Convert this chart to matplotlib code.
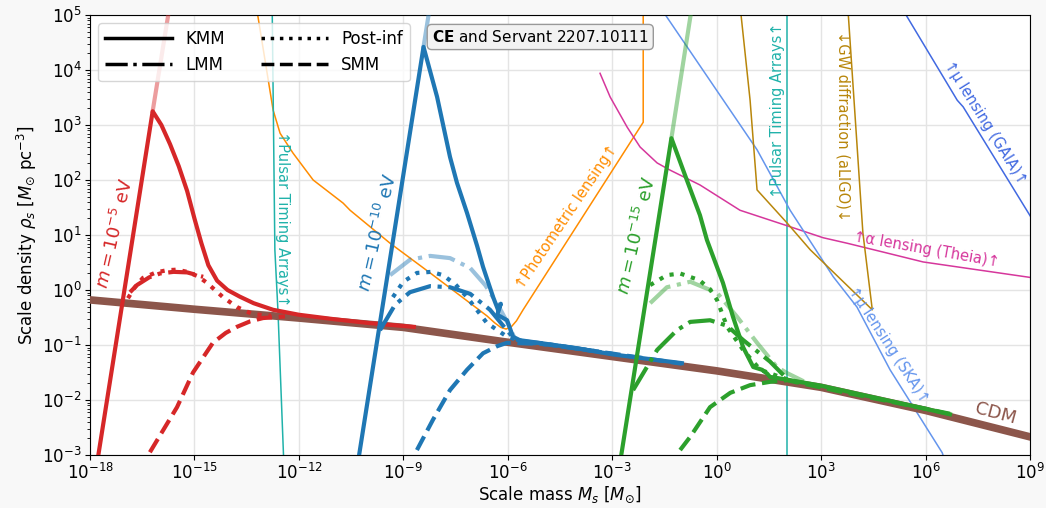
import numpy as np
import matplotlib
matplotlib.use("Agg")
import matplotlib.pyplot as plt
from matplotlib.lines import Line2D

# all values are log10 (mass in Msun, density in Msun/pc^3)
cdm_lx = [-18, -15, -12, -9, -6, -3, 0, 3, 6, 9]
cdm_ly = [-0.18, -0.35, -0.51, -0.68, -0.95, -1.21, -1.47, -1.77, -2.19, -2.67]

# m = 1e-5 eV (red)
red_kmm_lx = [-17.76, -16.2, -15.95, -15.7, -15.45, -15.21, -15.0, -14.8, -14.6, -14.35, -14.05, -13.7, -13.3, -12.74, -12.0, -11.0, -10.0, -8.7]
red_kmm_ly = [-3.0, 3.25, 3.0, 2.65, 2.25, 1.8, 1.3, 0.85, 0.45, 0.17, 0.0, -0.12, -0.24, -0.36, -0.45, -0.53, -0.6, -0.67]
red_fade_lx = [-16.2, -15.6]
red_fade_ly = [3.25, 5.6]
red_post_lx = [-16.91, -16.7, -16.48, -16.1, -15.79, -15.5, -15.21, -14.9, -14.64, -14.18, -13.78, -13.32, -12.8]
red_post_ly = [-0.15, 0.06, 0.22, 0.32, 0.36, 0.37, 0.33, 0.25, 0.13, -0.13, -0.31, -0.44, -0.47]
red_lmm_lx = [-16.85, -16.65, -16.3, -15.99, -15.6, -15.21, -14.75]
red_lmm_ly = [-0.04, 0.09, 0.23, 0.3, 0.33, 0.32, 0.24]
red_smm_lx = [-16.28, -15.5, -15.04, -14.47, -14.1, -13.78, -13.4, -13.03, -12.4]
red_smm_ly = [-2.95, -2.13, -1.5, -0.96, -0.78, -0.67, -0.57, -0.51, -0.48]

# m = 1e-10 eV (blue)
blue_kmm_lx = [-10.27, -8.42, -8.03, -7.66, -7.46, -7.17, -6.88, -6.71, -6.42, -6.28, -6.2, -6.3, -6.02, -5.85, -5.6, -5.0, -4.0, -3.0, -1.0]
blue_kmm_ly = [-3.0, 4.42, 3.51, 2.42, 1.95, 1.4, 0.8, 0.42, -0.13, -0.36, -0.25, -0.45, -0.55, -0.85, -0.93, -0.97, -1.06, -1.17, -1.33]
blue_fade_lx = [-8.42, -8.1]
blue_fade_ly = [4.42, 5.7]
blue_post_lx = [-9.3, -9.0, -8.61, -8.2, -7.86, -7.5, -7.17, -6.6, -6.02, -5.5, -4.5, -3.0]
blue_post_ly = [-0.13, 0.15, 0.31, 0.33, 0.27, 0.1, -0.13, -0.6, -0.85, -0.95, -1.02, -1.16]
blue_lmm_lx = [-9.67, -9.24, -8.81, -8.23, -7.66, -7.08, -6.51, -6.08, -5.8, -5.0, -3.5]
blue_lmm_ly = [-0.73, -0.27, -0.04, 0.07, 0.05, -0.07, -0.36, -0.69, -0.9, -0.97, -1.11]
blue_lmm2_lx = [-9.38, -8.81, -8.23, -7.66, -7.08, -6.65, -6.31, -6.02, -5.8]
blue_lmm2_ly = [0.27, 0.55, 0.62, 0.58, 0.4, 0.09, -0.24, -0.58, -0.88]
blue_smm_lx = [-8.61, -8.15, -7.66, -7.17, -6.71, -6.3, -6.02, -5.0, -3.5, -1.0]
blue_smm_ly = [-2.91, -2.36, -1.82, -1.45, -1.15, -1.02, -0.96, -0.98, -1.11, -1.34]

# m = 1e-15 eV (green)
green_kmm_lx = [-2.74, -1.3, -0.91, -0.48, -0.28, 0.18, 0.47, 0.76, 1.05, 1.3, 1.45, 1.53, 2.02, 3.0, 4.5, 6.0, 6.7]
green_kmm_ly = [-3.0, 2.76, 2.09, 1.36, 0.91, 0.13, -0.49, -1.04, -1.4, -1.45, -1.52, -1.58, -1.63, -1.74, -1.95, -2.16, -2.26]
green_fade_lx = [-1.3, -0.6]
green_fade_ly = [2.76, 5.6]
green_post_lx = [-1.91, -1.43, -1.05, -0.5, -0.2, 0.01, 0.3, 0.76, 1.25, 1.82, 2.3]
green_post_ly = [0.09, 0.27, 0.3, 0.18, 0.02, -0.18, -0.67, -1.09, -1.45, -1.58, -1.68]
green_lmm_lx = [-2.4, -1.71, -1.14, -0.76, -0.19, 0.3, 0.76, 1.53, 2.0]
green_lmm_ly = [-1.82, -1.09, -0.73, -0.58, -0.55, -0.65, -0.91, -1.3, -1.6]
green_lmm2_lx = [-1.91, -1.43, -0.76, 0.01, 0.59, 1.16, 1.73, 2.02, 2.5]
green_lmm2_ly = [-0.24, 0.05, 0.15, -0.05, -0.49, -0.96, -1.4, -1.51, -1.66]
green_smm_lx = [-1.05, -0.76, -0.19, 0.39, 0.96, 1.53, 2.02, 3.5, 5.0, 6.7]
green_smm_ly = [-2.91, -2.67, -2.13, -1.87, -1.73, -1.67, -1.64, -1.84, -2.03, -2.25]

# observational bounds
photo_lx = [-13.26, -12.74, -12.54, -12.17, -11.59, -10.73, -10.53, -9.38, -8.23, -7.08, -6.6, -6.37, -6.2, -6.05, -5.9, -5.75, -5.56, -2.11, -2.11]
photo_ly = [5.3, 3.27, 2.85, 2.49, 2.0, 1.58, 1.45, 0.85, 0.31, -0.24, -0.47, -0.6, -0.68, -0.71, -0.67, -0.56, -0.36, 3.05, 5.3]
pta1_lx = [-12.77, -12.69, -12.6, -12.43]
pta1_ly = [5.3, 0.73, -0.4, -3.2]
pta2_lx = [2.02, 2.02]
pta2_ly = [-3.2, 5.3]
theia_lx = [-3.35, -3.06, -2.57, -2.2, -1.71, -1.34, -0.48, 0.67, 2.11, 3.06, 3.75, 4.78, 5.93, 9.1]
theia_ly = [3.94, 3.51, 2.96, 2.6, 2.31, 2.18, 1.91, 1.45, 1.15, 0.95, 0.85, 0.69, 0.51, 0.22]
ska_lx = [-1.6, 1.16, 2.11, 3.35, 4.03, 4.98, 6.48, 6.6]
ska_ly = [5.12, 2.55, 1.45, 0.24, -0.31, -1.45, -2.96, -3.2]
gaia_lx = [5.25, 6.91, 7.08, 9.1]
gaia_ly = [5.2, 3.45, 3.33, 1.25]
gw_lx = [0.65, 0.96, 1.16, 2.02, 2.69, 4.47, 4.2, 3.75]
gw_ly = [5.3, 3.45, 1.82, 1.22, 0.73, -0.36, 1.04, 5.3]


def P(lx):
    return 10.0 ** np.array(lx)


fig = plt.figure(figsize=(10.46, 5.08), dpi=100, facecolor="#f8f8f8")
ax = fig.add_axes([90 / 1046, 1 - 455 / 508, 940 / 1046, 440 / 508])
ax.set_xscale("log")
ax.set_yscale("log")

red, blue, green = "#d62728", "#1f77b4", "#2ca02c"
lw = 3.0

# bounds
ax.plot(P(photo_lx), P(photo_ly), color="darkorange", lw=1.1, zorder=2)
ax.plot(P(pta1_lx), P(pta1_ly), color="lightseagreen", lw=1.1, zorder=2)
ax.plot(P(pta2_lx), P(pta2_ly), color="lightseagreen", lw=1.1, zorder=2)
ax.plot(P(theia_lx), P(theia_ly), color="#d6379c", lw=1.1, zorder=2)
ax.plot(P(ska_lx), P(ska_ly), color="cornflowerblue", lw=1.1, zorder=2)
ax.plot(P(gaia_lx), P(gaia_ly), color="royalblue", lw=1.1, zorder=2)
ax.plot(P(gw_lx), P(gw_ly), color="darkgoldenrod", lw=1.1, zorder=2)

# CDM
ax.plot(P(cdm_lx), P(cdm_ly), color="#8c564b", lw=5.5, zorder=3)

for col, kmm, fade, post, lmm, lmm2, smm in [
    (red, (red_kmm_lx, red_kmm_ly), (red_fade_lx, red_fade_ly), (red_post_lx, red_post_ly),
     (red_lmm_lx, red_lmm_ly), None, (red_smm_lx, red_smm_ly)),
    (blue, (blue_kmm_lx, blue_kmm_ly), (blue_fade_lx, blue_fade_ly), (blue_post_lx, blue_post_ly),
     (blue_lmm_lx, blue_lmm_ly), (blue_lmm2_lx, blue_lmm2_ly), (blue_smm_lx, blue_smm_ly)),
    (green, (green_kmm_lx, green_kmm_ly), (green_fade_lx, green_fade_ly), (green_post_lx, green_post_ly),
     (green_lmm_lx, green_lmm_ly), (green_lmm2_lx, green_lmm2_ly), (green_smm_lx, green_smm_ly)),
]:
    ax.plot(P(fade[0]), P(fade[1]), color=col, lw=lw, alpha=0.45, zorder=4)
    if lmm2 is not None:
        ax.plot(P(lmm2[0]), P(lmm2[1]), color=col, lw=lw, ls="-.", alpha=0.45, zorder=4)
    ax.plot(P(kmm[0]), P(kmm[1]), color=col, lw=lw, zorder=5)
    ax.plot(P(post[0]), P(post[1]), color=col, lw=lw, ls=":", zorder=5)
    ax.plot(P(lmm[0]), P(lmm[1]), color=col, lw=lw, ls="-.", zorder=5)
    ax.plot(P(smm[0]), P(smm[1]), color=col, lw=lw, ls="--", zorder=5)

ax.set_xlim(1e-18, 1e9)
ax.set_ylim(1e-3, 1e5)
ax.set_xticks([10.0 ** k for k in range(-18, 10, 3)])
ax.xaxis.set_minor_locator(matplotlib.ticker.NullLocator())
ax.set_yticks([10.0 ** k for k in range(-3, 6)])
ax.yaxis.set_minor_locator(matplotlib.ticker.LogLocator(subs=np.arange(2, 10), numticks=20))
ax.yaxis.set_minor_formatter(matplotlib.ticker.NullFormatter())
ax.tick_params(labelsize=12, pad=2.5)
ax.grid(True, which="major", color="#e4e4e4", lw=1)
ax.set_axisbelow(True)
ax.set_xlabel(r"Scale mass $M_s$ [$M_{\odot}$]", fontsize=12, labelpad=1)
ax.set_ylabel(r"Scale density $\rho_s$ [$M_{\odot}$ pc$^{-3}$]", fontsize=12, labelpad=2)

# labels
def lab(lx, ly, s, col, rot, fs=10.5):
    ax.text(10 ** lx, 10 ** ly, s, color=col, rotation=rot, fontsize=fs,
            ha="center", va="center", rotation_mode="anchor", zorder=6)

lab(-17.28, 1.04, r"$m=10^{-5}$ eV", red, 77, 13)
lab(-9.73, 1.04, r"$m=10^{-10}$ eV", blue, 77, 13)
lab(-2.29, 1.0, r"$m=10^{-15}$ eV", green, 77, 13)
lab(-4.3, 1.33, "↑Photometric lensing↑", "darkorange", 56)
lab(6.02, 0.73, "↑α lensing (Theia)↑", "#d6379c", -10)
lab(8.0, -2.24, "CDM", "#8c564b", -15, 13)
lab(7.71, 3.04, "↑μ lensing (GAIA)↑", "royalblue", -58)
lab(4.92, -1.0, "↑μ lensing (SKA)↑", "cornflowerblue", -57)
lab(-12.46, 1.29, "↑Pulsar Timing Arrays↑", "lightseagreen", -90)
lab(1.76, 3.27, "↑Pulsar Timing Arrays↑", "lightseagreen", 90)
lab(3.63, 2.98, "↓GW diffraction (aLIGO)↓", "darkgoldenrod", -90)

ax.text(0.479, 0.95, r"$\mathbf{CE}$ and Servant 2207.10111", transform=ax.transAxes,
        fontsize=11, ha="center", va="center", zorder=7,
        bbox=dict(boxstyle="round,pad=0.3", facecolor="#f2f2f2", edgecolor="#999999"))

handles = [Line2D([], [], color="k", lw=2.5, ls="-"),
           Line2D([], [], color="k", lw=2.5, ls="-."),
           Line2D([], [], color="k", lw=2.5, ls=":"),
           Line2D([], [], color="k", lw=2.5, ls="--")]
ax.legend(handles, ["KMM", "LMM", "Post-inf", "SMM"], ncol=2, loc="upper left",
          fontsize=12, handlelength=4, columnspacing=2.2, framealpha=0.8)

fig.savefig("out.png", dpi=100, facecolor=fig.get_facecolor())
